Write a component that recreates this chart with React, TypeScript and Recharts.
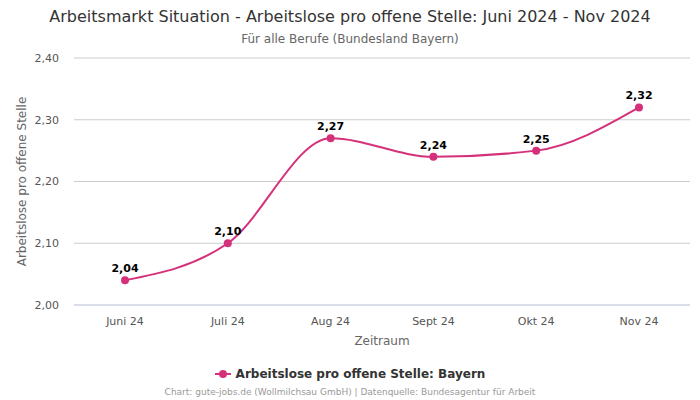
import { CartesianGrid, LabelList, Line, LineChart, XAxis, YAxis } from "recharts";

const months = ["Juni 24", "Juli 24", "Aug 24", "Sept 24", "Okt 24", "Nov 24"];
const bayern = [2.04, 2.1, 2.27, 2.24, 2.25, 2.32];
const yTicks = [2.0, 2.1, 2.2, 2.3, 2.4];

const seriesName = "Arbeitslose pro offene Stelle: Bayern";
const lineColor = "#d5317b";
const font = "'DejaVu Sans', sans-serif";

const fmt = (v: number) => v.toFixed(2).replace(".", ",");

function LegendContent() {
  return (
    <div
      style={{
        display: "flex",
        justifyContent: "center",
        alignItems: "center",
        fontFamily: font,
        fontSize: 12,
        fontWeight: "bold",
        color: "#333",
      }}
    >
      <svg width={16} height={10} style={{ marginRight: 5 }}>
        <line x1={0} y1={5} x2={16} y2={5} stroke={lineColor} strokeWidth={2} />
        <circle cx={8} cy={5} r={4} fill={lineColor} />
      </svg>
      {seriesName}
    </div>
  );
}

export default function App() {
  const data = months.map((m, i) => ({ month: m, value: bayern[i] }));

  return (
    <div style={{ position: "absolute", left: 0, top: 0, width: 700, height: 400, fontFamily: font, background: "#fff" }}>
      <div style={{ position: "absolute", top: 7, width: 700, textAlign: "center", fontSize: 16, color: "#333" }}>
        Arbeitsmarkt Situation - Arbeitslose pro offene Stelle: Juni 2024 - Nov 2024
      </div>
      <div style={{ position: "absolute", top: 32, width: 700, textAlign: "center", fontSize: 12, color: "#666" }}>
        Für alle Berufe (Bundesland Bayern)
      </div>
      <LineChart width={700} height={400} data={data} margin={{ top: 58, right: 10, bottom: 65, left: 16 }}>
        <CartesianGrid vertical={false} stroke="#cccccc" />
        <XAxis
          dataKey="month"
          padding={{ left: 51, right: 51 }}
          tickLine={false}
          axisLine={{ stroke: "#ccd6eb" }}
          tickMargin={6}
          height={30}
          tick={{ fontSize: 11, fill: "#555", fontFamily: font }}
          label={{ value: "Zeitraum", position: "insideBottom", offset: -10, fontSize: 12, fill: "#666", fontFamily: font }}
        />
        <YAxis
          domain={[2.0, 2.4]}
          ticks={yTicks}
          tickFormatter={fmt}
          tickLine={false}
          axisLine={false}
          tickSize={0}
          tickMargin={15}
          width={58}
          tick={{ fontSize: 11, fill: "#555", fontFamily: font }}
          label={{
            value: "Arbeitslose pro offene Stelle",
            angle: -90,
            position: "insideLeft",
            offset: 6,
            style: { textAnchor: "middle", fontSize: 12, fill: "#666", fontFamily: font },
          }}
        />
        <Line
          type="monotone"
          dataKey="value"
          name={seriesName}
          stroke={lineColor}
          strokeWidth={2}
          dot={{ r: 4, fill: lineColor, stroke: lineColor, strokeWidth: 0 }}
          activeDot={false}
          isAnimationActive={false}
        >
          <LabelList
            dataKey="value"
            position="top"
            offset={8}
            formatter={(v: number) => fmt(v)}
            style={{ fontSize: 11, fontWeight: "bold", fill: "#000", fontFamily: font }}
          />
        </Line>
      </LineChart>
      <div style={{ position: "absolute", top: 367, width: 700 }}>
        <LegendContent />
      </div>
      <div style={{ position: "absolute", top: 387, width: 700, textAlign: "center", fontSize: 9, color: "#999" }}>
        Chart: gute-jobs.de (Wollmilchsau GmbH) | Datenquelle: Bundesagentur für Arbeit
      </div>
    </div>
  );
}
